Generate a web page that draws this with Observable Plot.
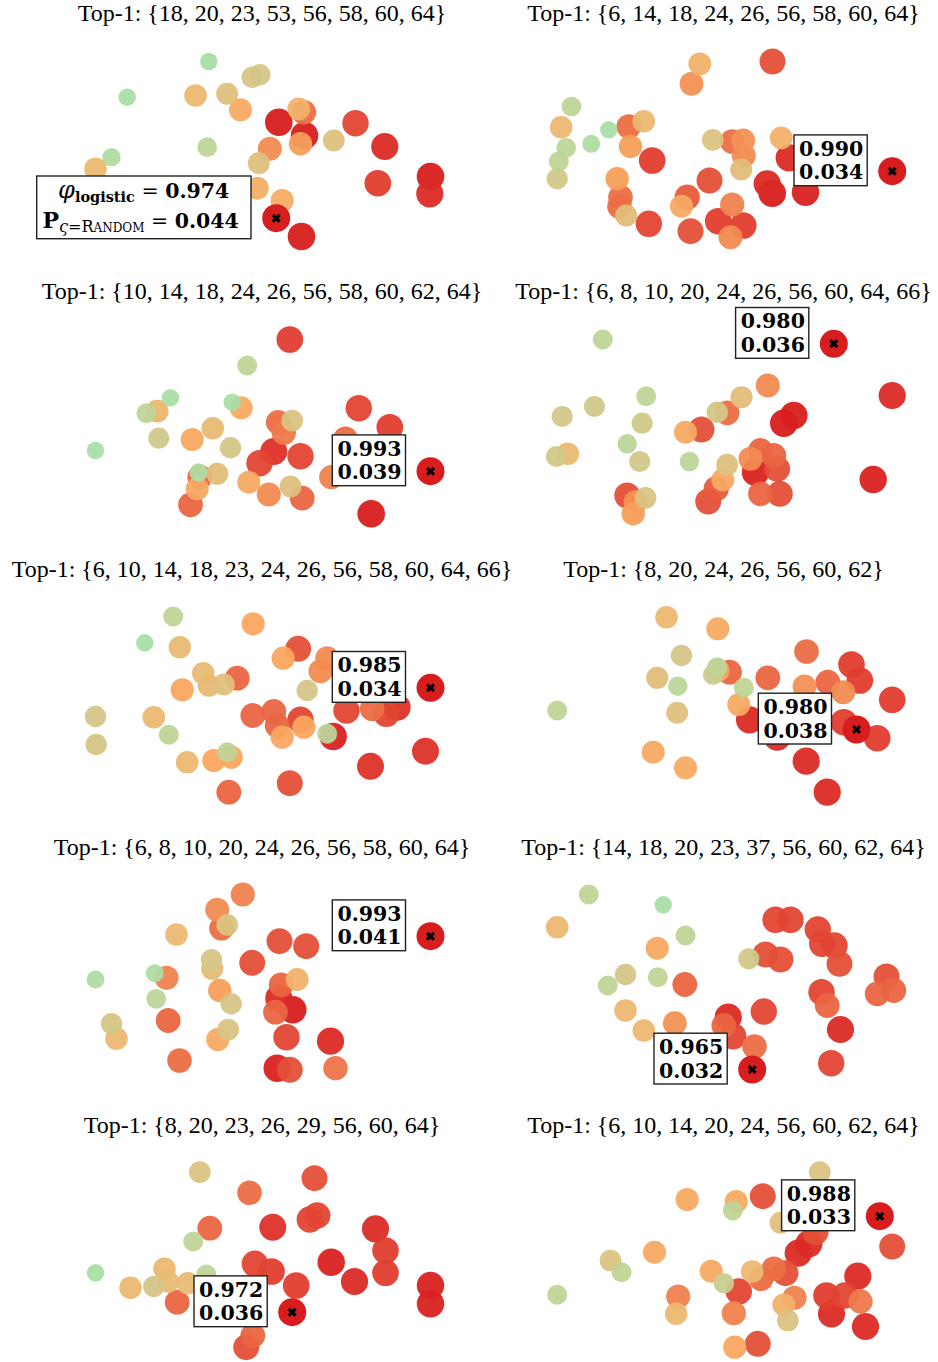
<!DOCTYPE html>
<html><head><meta charset="utf-8">
<script src="https://cdn.jsdelivr.net/npm/d3@7"></script>
<script src="https://cdn.jsdelivr.net/npm/@observablehq/plot@0.6"></script>
<style>
html,body{margin:0;padding:0;background:#fff;}
#fig{position:relative;width:938px;height:1362px;overflow:hidden;}
.panel{position:absolute;width:469px;height:278px;}
.title{position:absolute;top:0;height:30px;line-height:27px;width:600px;text-align:center;font-family:"Liberation Serif",serif;font-size:24px;color:#000;white-space:nowrap;}
.panel svg{position:absolute;top:30px;left:0;overflow:visible;}
</style></head><body><div id="fig"></div><script>
// ---- data: points [x, y, score] (page units) ----
const titles = [
  "Top-1: {18, 20, 23, 53, 56, 58, 60, 64}",
  "Top-1: {6, 14, 18, 24, 26, 56, 58, 60, 64}",
  "Top-1: {10, 14, 18, 24, 26, 56, 58, 60, 62, 64}",
  "Top-1: {6, 8, 10, 20, 24, 26, 56, 60, 64, 66}",
  "Top-1: {6, 10, 14, 18, 23, 24, 26, 56, 58, 60, 64, 66}",
  "Top-1: {8, 20, 24, 26, 56, 60, 62}",
  "Top-1: {6, 8, 10, 20, 24, 26, 56, 58, 60, 64}",
  "Top-1: {14, 18, 20, 23, 37, 56, 60, 62, 64}",
  "Top-1: {8, 20, 23, 26, 29, 56, 60, 64}",
  "Top-1: {6, 10, 14, 20, 24, 56, 60, 62, 64}"
];
const phiValues = [0.974, 0.990, 0.993, 0.980, 0.985, 0.980, 0.993, 0.965, 0.972, 0.988];
const pRandomValues = [0.044, 0.034, 0.039, 0.036, 0.034, 0.038, 0.041, 0.032, 0.036, 0.033];
const specialX = [275.7, 891.7, 430, 833.3, 430, 856, 430, 751.7, 291.7, 879.3];
const specialY = [217.7, 170.7, 470.7, 343.3, 687.3, 729, 935.7, 1069, 1311.7, 1215.7];

const panel1 = [[208.3,61,0],[251.7,76.7,0.27],[259.3,74.3,0.27],[126.7,96.7,0],[195,95,0.4],[226.7,93.3,0.33],[240,109.3,0.5],[298.3,108.3,0.45],[303.3,111.7,0.72],[278.3,121.7,1],[300,143.3,0.55],[304,135,1],[333.3,140,0.32],[355,122.7,0.85],[384.3,146,0.95],[206.7,146.7,0.13],[269.3,148.3,0.62],[258.3,162.7,0.33],[111,156.7,0.05],[95,168.3,0.4],[377.3,182.7,0.88],[430,176,1],[429.3,193.3,0.95],[256.7,187.7,0.47],[281.7,200,0.48],[301,236,1]];
const panel2 = [[699.3,63.3,0.45],[772,61,0.82],[691,83.3,0.6],[571,106,0.13],[560.7,126.7,0.4],[608.3,129.3,0],[590.7,143.3,0.03],[565.7,147.3,0.13],[558.3,161,0.15],[556.7,178.3,0.25],[643.3,120.7,0.4],[628.3,126,0.72],[630,146,0.55],[651.7,160,0.88],[712.3,139.3,0.3],[742.7,140,0.6],[731.7,141,0.72],[743.3,155,0.62],[740.7,169,0.35],[780.7,137.3,0.45],[788.7,157.3,0.95],[616.7,178.3,0.55],[620,196.7,0.72],[619,206,0.72],[625.7,215,0.35],[648.3,223.3,0.85],[709,180,0.82],[681,205.7,0.5],[686.7,196.7,0.78],[731.7,204,0.65],[717.7,220.7,0.88],[742.7,225,0.88],[730,236.7,0.62],[690,230.7,0.82],[766.7,183.3,0.95],[771.7,192.7,1],[805,191.7,0.98]];
const panel3 = [[289.3,339,0.88],[246.7,365,0.15],[170,397.3,0],[231.7,401.7,0],[240.7,407.3,0.5],[146,412.7,0.15],[156.7,410.7,0.42],[158.3,437.7,0.25],[95,450,0],[191.7,439,0.5],[212.3,427.7,0.38],[230,447.3,0.27],[291.7,420,0.3],[277.7,421.7,0.72],[283.3,432.3,0.68],[358.3,407.7,0.85],[389.3,426.7,0.88],[273.3,451,0.93],[259,462.7,0.85],[300,455.7,0.85],[345,438.3,0.72],[330.7,476.7,0.65],[198,472,0.05],[216.7,473.3,0.35],[199.3,476.7,0.75],[196.7,488.3,0.5],[190,504.3,0.75],[248.3,481.7,0.5],[268.3,494,0.62],[290,486,0.32],[301.7,497.7,0.75],[370.7,513.3,1]];
const panel4 = [[602.3,339,0.15],[561.7,416,0.25],[594,406,0.25],[645.7,395.7,0.15],[641.7,422.7,0.25],[626.7,443.3,0.12],[639.3,461,0.25],[556,456,0.25],[567.3,453.3,0.4],[741,396.7,0.35],[767.3,385,0.62],[716.7,411.7,0.27],[726.7,412.3,0.72],[685,431.7,0.5],[701,429,0.82],[793.3,415,1],[783.3,422.7,1],[891.7,395,0.95],[689,461,0.12],[726.7,464.3,0.32],[722.3,479.3,0.5],[760,450,0.75],[773.3,455,0.75],[750,458.3,0.62],[776.7,468.3,0.82],[755,471.7,0.98],[760,493.3,0.75],[779.3,493.3,0.82],[715.7,488.3,0.78],[707.7,501,0.82],[872.7,479,0.98],[645,497.3,0.3],[635,501.7,0.6],[626.7,495,0.82],[632.7,513.3,0.55]];
const panel5 = [[172.7,616,0.15],[144.3,642.3,0],[179.3,646.7,0.38],[252.7,623.3,0.52],[202.7,672.7,0.38],[208.3,685,0.38],[223.3,684,0.33],[236.7,677.7,0.75],[181.7,689.3,0.52],[282.7,657.7,0.52],[297.7,648.3,0.82],[326.7,657.7,0.62],[320,670.7,0.62],[306.7,690,0.27],[95,716,0.27],[95.7,744,0.27],[153.3,716.7,0.4],[168.3,734.3,0.15],[252.3,715,0.75],[273.3,711,0.75],[276.7,725,0.75],[281.7,736.7,0.52],[303.3,726.7,0.52],[300,719.3,0.85],[326.7,733.3,0.15],[332.7,736,0.98],[346,710,0.85],[371.7,708.3,0.72],[386,713.3,0.85],[396.7,706.7,0.92],[425,750.7,0.92],[370,765.7,0.92],[226.7,751.7,0.15],[213.3,760,0.52],[230.7,756.7,0.52],[186.7,761.7,0.4],[228.3,791.7,0.75],[289.3,782.7,0.82]];
const panel6 = [[666,616.7,0.4],[717.3,628.3,0.5],[681,655,0.27],[656.7,677.3,0.35],[677.3,685.7,0.12],[676.7,712.3,0.33],[556.7,710,0.15],[712.7,674.3,0.2],[716.7,666.7,0.15],[717.3,670,0.5],[729,671.7,0.75],[743.3,687.3,0.15],[738.3,704,0.5],[749,719.3,0.95],[767.3,677.3,0.75],[806,651,0.72],[804,686,0.6],[827.3,681.7,0.75],[842.7,691.7,0.62],[851,664,0.88],[859.3,680,0.88],[891.7,699.3,0.88],[843.3,721.7,0.88],[876.7,737.7,0.88],[776.7,736.7,0.95],[805.7,760.7,0.95],[826.7,791.7,0.95],[652.7,751.7,0.5],[685,767.3,0.5]];
const panel7 = [[242.3,894,0.65],[216.7,909.3,0.62],[226.7,924.3,0.3],[221,927.7,0.72],[176,934,0.4],[279,940.7,0.82],[305.7,945.7,0.82],[251.7,962.3,0.82],[211,959.3,0.27],[211.7,968.3,0.35],[95,979,0.03],[154.3,972.7,0.03],[166,977.3,0.65],[155.7,998.3,0.13],[219.3,990,0.55],[230.7,1003.3,0.27],[296.7,979,0.45],[280.7,984.3,0.75],[275,1011.7,0.75],[278.3,997.7,0.95],[292.3,1009.3,1],[111,1023.3,0.27],[116,1038.3,0.4],[167.7,1020,0.75],[227.7,1029,0.3],[217.3,1039,0.5],[286,1036.7,0.85],[330,1040.7,0.95],[179,1060,0.72],[289.3,1069.3,0.82],[276.7,1067.7,0.98],[335,1067.7,0.7]];
const panel8 = [[588.3,894,0.15],[662.7,904.3,0],[556.7,926.7,0.4],[685,935,0.15],[656.7,947.7,0.5],[748.3,958.3,0.25],[775,919.3,0.85],[790,919.3,0.85],[817.3,929,0.85],[821.7,943.3,0.85],[834,945,0.85],[839,963.3,0.82],[765,954,0.82],[780,959,0.82],[625,974,0.27],[657.3,976.7,0.15],[607.3,985,0.15],[684.3,984,0.75],[821,991.7,0.85],[826.7,1005,0.75],[876.7,993.3,0.75],[893.3,990,0.75],[886,976,0.82],[625,1010,0.4],[643.3,1030,0.4],[674.3,1022.7,0.6],[723.3,1025,0.75],[727.7,1016.7,0.95],[732.7,1035.7,0.85],[763.3,1011,0.85],[754,1046,0.72],[840,1029,0.95],[830.7,1062.7,0.85]];
const panel9 = [[199.3,1171.7,0.3],[314,1177.7,0.82],[249,1192.3,0.72],[316.7,1215,0.85],[309.3,1219,0.85],[272.3,1226.7,0.92],[209.3,1227.7,0.75],[192.7,1241,0.15],[375,1228.3,0.95],[385,1250,0.88],[385,1272.3,0.88],[330.7,1261.7,0.98],[354,1281,0.95],[254.3,1263.3,0.85],[271,1271,0.88],[295.7,1285,0.88],[95,1272.3,0],[164,1268.3,0.4],[167.3,1281,0.38],[153.3,1286,0.27],[130,1287.3,0.4],[187.3,1282.7,0.38],[205.7,1274,0.15],[176.7,1301.7,0.75],[430,1285,0.98],[430,1303.3,0.98],[252.3,1335,0.75],[245.7,1346.7,0.82]];
const panel10 = [[819.3,1171.7,0.3],[686.7,1199,0.5],[732.3,1210,0.15],[735.7,1201,0.5],[762.3,1195.7,0.82],[780,1222.3,0.33],[891.7,1246,0.82],[815,1231.7,0.82],[808.3,1243.3,0.95],[797.7,1252.7,0.95],[654,1251.7,0.5],[610,1260,0.3],[621,1271.7,0.15],[556.7,1294.3,0.15],[710.7,1270.7,0.5],[723.3,1282.7,0.2],[751.7,1271,0.4],[773.3,1268.3,0.72],[760.7,1278.3,0.72],[785,1272.7,0.82],[738.3,1291,0.85],[857.3,1275.7,0.95],[826,1295,0.88],[844.3,1295,0.85],[860,1301,0.68],[831,1313.3,0.95],[865,1326,0.95],[677.7,1296,0.65],[675.7,1313.3,0.4],[733.3,1312.7,0.65],[783.3,1304.3,0.45],[794,1297.3,0.65],[787.3,1320,0.3],[734.3,1346.7,0.52],[757.3,1343.3,0.82]];
const panels = [panel1, panel2, panel3, panel4, panel5, panel6, panel7, panel8, panel9, panel10];

// ---- scales ----
const scoreStops = [0, 0.15, 0.27, 0.4, 0.52, 0.62, 0.75, 0.85, 1];
const scoreColors = ["#a9dea6","#c0d497","#d5c687","#ebb871","#f9a75f","#f28b52","#ea6541","#e24533","#d81d1e"];
const scoreRadii = [8.7, 10, 10.7, 11.3, 11.6, 12, 12.4, 13.2, 13.8];
const titleCenters = [262, 254.5]; // per column, relative to panel
const PW = 469, PH = 278, TH = 30;
const NUM_FONT = "DejaVu Serif";

const fig = document.getElementById("fig");
panels.forEach((pts, i) => {
  const col = i % 2, row = Math.floor(i / 2);
  const left = col * PW, top = row * PH;
  const div = document.createElement("div");
  div.className = "panel";
  div.style.left = left + "px";
  div.style.top = top + "px";
  const t = document.createElement("div");
  t.className = "title";
  t.style.left = (titleCenters[col] - 300) + "px";
  t.textContent = titles[i];
  div.appendChild(t);

  const rows = pts.map(([x, y, v]) => ({x, y, v})).sort((a, b) => a.v - b.v);
  const sp = [{x: specialX[i], y: specialY[i], phi: phiValues[i].toFixed(3), p: pRandomValues[i].toFixed(3)}];
  const marks = [
    Plot.dot(rows, {x: "x", y: "y", r: "v", fill: "v", fillOpacity: 0.95}),
    Plot.dot(sp, {x: "x", y: "y", r: 14, fill: "#d81d1e"}),
    Plot.dot(sp, {x: "x", y: "y", r: 3.2, symbol: "times", stroke: "#000", strokeWidth: 3.2})
  ];
  if (i === 0) {
    marks.push(Plot.rect(sp, {x1: "x", x2: "x", y1: "y", y2: "y", insetLeft: -239, insetRight: 24.7, insetTop: -41.7, insetBottom: -21, fill: "white", stroke: "#222", strokeWidth: 1.4}));
  } else {
    marks.push(Plot.rect(sp, {x1: "x", x2: "x", y1: "y", y2: "y", insetLeft: -97.7, insetRight: 24.5, insetTop: -35.8, insetBottom: -15, fill: "white", stroke: "#222", strokeWidth: 1.4}));
    marks.push(Plot.text(sp, {x: "x", y: "y", text: "phi", dx: -61, dy: -22.2, fontSize: 20.5, fontWeight: "bold", fontFamily: NUM_FONT, fill: "#000"}));
    marks.push(Plot.text(sp, {x: "x", y: "y", text: "p", dx: -61, dy: 1.6, fontSize: 20.5, fontWeight: "bold", fontFamily: NUM_FONT, fill: "#000"}));
  }
  const plot = Plot.plot({
    width: PW, height: PH - TH,
    margin: 0,
    x: {domain: [left, left + PW], axis: null},
    y: {domain: [top + TH, top + PH], reverse: true, axis: null},
    r: {type: "linear", domain: scoreStops, range: scoreRadii},
    color: {type: "linear", domain: scoreStops, range: scoreColors},
    style: {fontFamily: "Liberation Serif", background: "transparent", overflow: "visible"},
    marks
  });
  if (i === 0) {
    const sx = plot.scale("x").apply(specialX[0]);
    const sy = plot.scale("y").apply(specialY[0]);
    const g = d3.select(plot).append("g").attr("font-family", NUM_FONT).attr("fill", "#000").style("white-space", "pre");
    const l1 = g.append("text").attr("x", sx - 132).attr("y", sy - 19.4).attr("text-anchor", "middle").attr("font-size", 20.5);
    l1.append("tspan").attr("font-style", "italic").attr("font-size", 24).text("φ");
    l1.append("tspan").attr("font-size", 14.5).attr("font-weight", "bold").attr("dy", 4).text("logistic");
    l1.append("tspan").attr("dy", -4).text(" = ");
    l1.append("tspan").attr("font-weight", "bold").text(phiValues[0].toFixed(3));
    const l2 = g.append("text").attr("x", sx - 135).attr("y", sy + 10.6).attr("text-anchor", "middle").attr("font-size", 20.5);
    l2.append("tspan").attr("font-weight", "bold").attr("font-size", 22).text("P");
    l2.append("tspan").attr("font-size", 16).attr("font-style", "italic").attr("dy", 4).text("ς");
    l2.append("tspan").attr("font-size", 16).text("=R");
    l2.append("tspan").attr("font-size", 12).text("ANDOM");
    l2.append("tspan").attr("dy", -4).text(" = ");
    l2.append("tspan").attr("font-weight", "bold").text(pRandomValues[0].toFixed(3));
  }
  div.appendChild(plot);
  fig.appendChild(div);
});
</script></body></html>
